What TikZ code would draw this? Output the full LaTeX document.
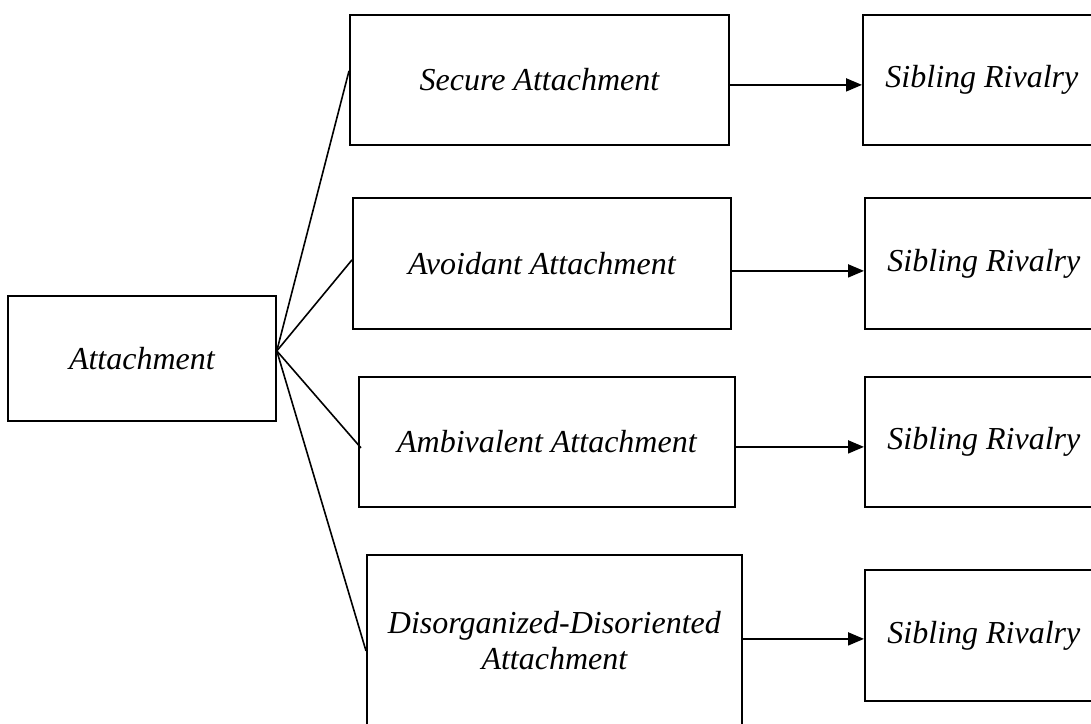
\documentclass[tikz,border=0pt]{standalone}
\usepackage{fontspec}
\setmainfont{Liberation Serif}
\usetikzlibrary{arrows.meta}
\begin{document}
\begin{tikzpicture}[x=1pt,y=-1pt,
  box/.style={draw=black, line width=1.8pt, fill=white, rectangle, inner sep=0pt,
    anchor=north west, align=center,
    font=\fontsize{32}{36}\selectfont\itshape},
  link/.style={line width=1.6pt},
  arr/.style={line width=1.9pt, -{Triangle[length=16pt,width=13pt]}}]
\useasboundingbox (0,0) rectangle (1091,723);
\fill[white] (0,0) rectangle (1091,723);
% boxes
\node[box, minimum width=268pt, minimum height=125pt] (att) at (7,295) {Attachment};
\node[box, minimum width=379pt, minimum height=130pt] (s1) at (349,14) {Secure Attachment};
\node[box, minimum width=378pt, minimum height=131pt] (s2) at (352,197) {Avoidant Attachment};
\node[box, minimum width=376pt, minimum height=130pt] (s3) at (358,376) {Ambivalent Attachment};
\node[box, minimum width=375pt, minimum height=172pt] (s4) at (366,554) {Disorganized-Disoriented\\Attachment};
\node[box, minimum width=238pt, minimum height=130pt] (r1) at (862,14) {Sibling Rivalry};
\node[box, minimum width=238pt, minimum height=131pt] (r2) at (864,197) {Sibling Rivalry};
\node[box, minimum width=238pt, minimum height=130pt] (r3) at (864,376) {Sibling Rivalry};
\node[box, minimum width=238pt, minimum height=131pt] (r4) at (864,569) {Sibling Rivalry};
% fan-out lines
\coordinate (hub) at ([yshift=7.5pt]att.east);
\draw[link] (hub) -- ([yshift=9pt]s1.west);
\draw[link] (hub) -- ([yshift=3.5pt]s2.west);
\draw[link] (hub) -- ([xshift=3pt,yshift=-6pt]s3.west);
\draw[link] (hub) -- ([yshift=-10pt]s4.west);
% arrows
\draw[arr] ([yshift=-5pt]s1.east) -- ([yshift=-5pt]r1.west);
\draw[arr] ([yshift=-7.5pt]s2.east) -- ([yshift=-7.5pt]r2.west);
\draw[arr] ([yshift=-5pt]s3.east) -- ([yshift=-5pt]r3.west);
\coordinate (a4) at ([yshift=2pt]s4.east);
\draw[arr] (a4) -- (a4 -| r4.west);
\end{tikzpicture}
\end{document}
